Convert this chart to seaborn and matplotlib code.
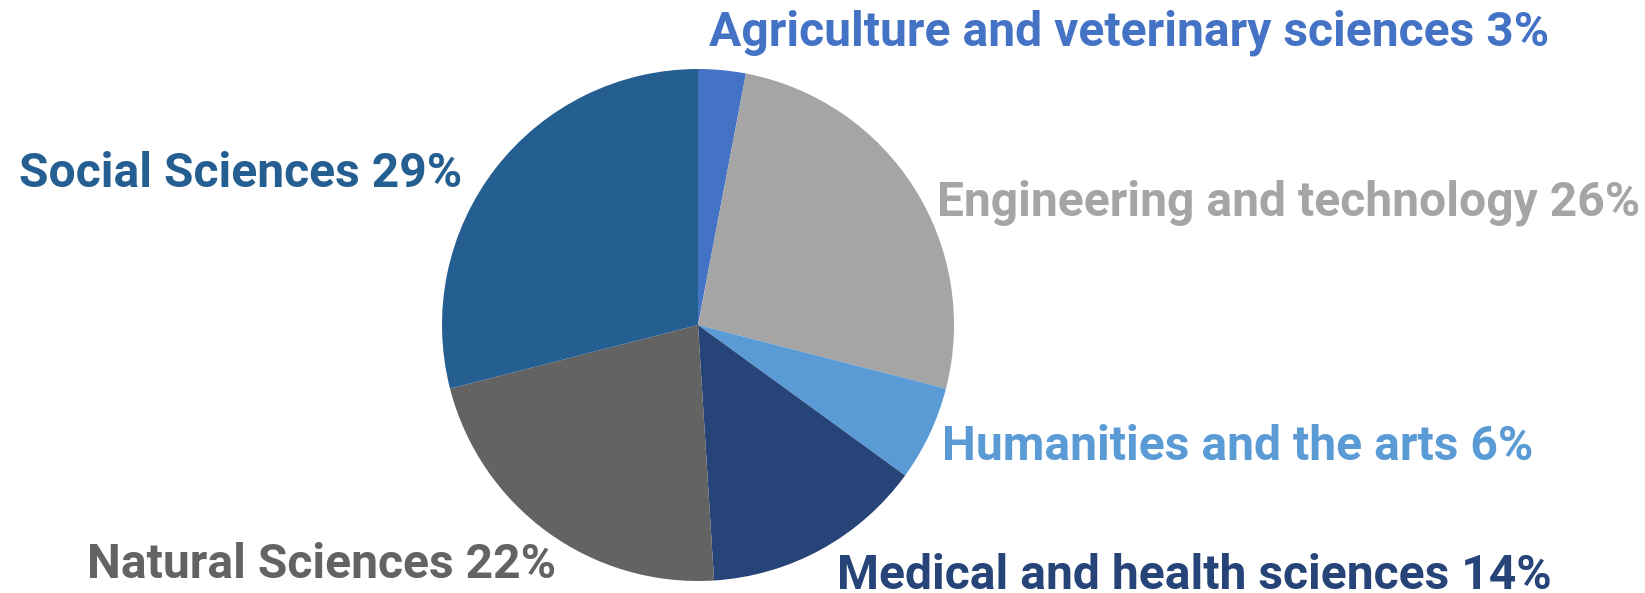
import seaborn as sns
from matplotlib import pyplot as plt

categories = ['Agriculture and veterinary sciences', 'Engineering and technology',
              'Humanities and the arts', 'Medical and health sciences',
              'Natural Sciences', 'Social Sciences']
shares = [3, 26, 6, 14, 22, 29]
colors = ['#4472C4', '#A5A5A5', '#5B9BD5', '#264478', '#636363', '#255E91']

# label anchor (left x, centre y) in pixels from the top-left corner
label_pos = [(709, 33), (937, 203), (942, 447), (837, 576), (87, 565), (19, 174)]

sns.set_theme(style="white")
plt.rcParams['font.family'] = ['Roboto', 'DejaVu Sans']

W, H = 1645, 593
fig = plt.figure(figsize=(W / 100, H / 100), dpi=100)

cx, cy, r = 698, 325, 256
ax = fig.add_axes([(cx - r) / W, 1 - (cy + r) / H, 2 * r / W, 2 * r / H])
ax.pie(shares, colors=colors, startangle=90, counterclock=False,
       wedgeprops=dict(linewidth=0))
ax.set_xlim(-1, 1)
ax.set_ylim(-1, 1)
ax.set_aspect('equal')
ax.axis('off')

for name, val, col, (x, y) in zip(categories, shares, colors, label_pos):
    fig.text(x / W, 1 - y / H, f'{name} {val}%', color=col, fontsize=34.6,
             fontweight='bold', ha='left', va='center')

fig.savefig('out.png', dpi=100)
